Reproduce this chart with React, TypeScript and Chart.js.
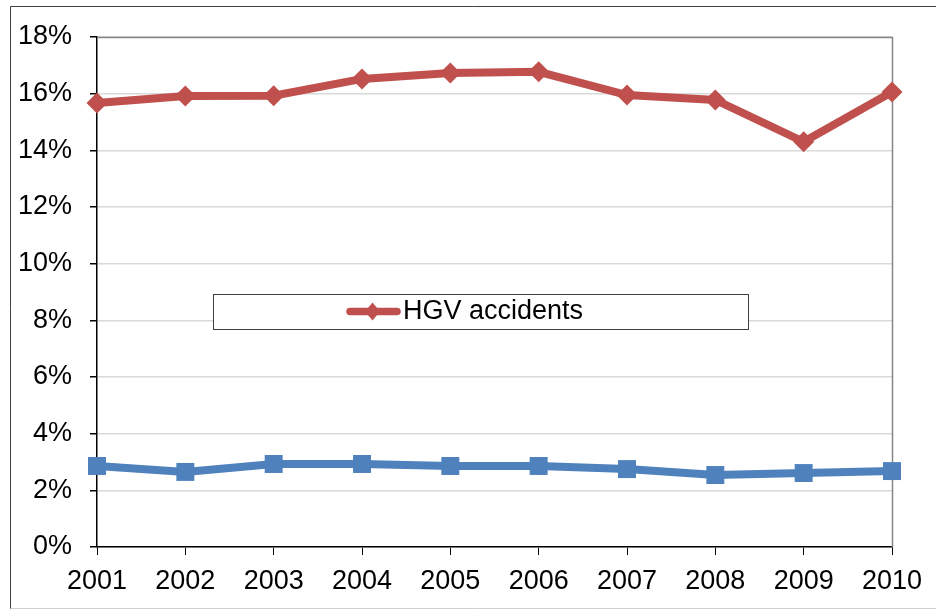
import React, { useEffect, useRef } from "react";
import { Chart, registerables } from "chart.js";

Chart.register(...registerables);

const years = ["2001", "2002", "2003", "2004", "2005", "2006", "2007", "2008", "2009", "2010"];
const hgvAccidents = [15.67, 15.92, 15.93, 16.52, 16.73, 16.77, 15.95, 15.78, 14.3, 16.06];
const otherSeries = [2.86, 2.65, 2.93, 2.93, 2.86, 2.86, 2.75, 2.54, 2.61, 2.68];
const legendLabel = "HGV accidents";

const FONT = "'Liberation Sans', Arial, sans-serif";
const RED = "#C0504D";
const BLUE = "#4F81BD";

const decorPlugin = {
  id: "decor",
  beforeDatasetsDraw(chart: any) {
    const { ctx, chartArea } = chart;
    ctx.save();
    ctx.strokeStyle = "#868686";
    ctx.lineWidth = 1.5;
    ctx.beginPath();
    ctx.moveTo(chartArea.left, chartArea.top + 0.5);
    ctx.lineTo(chartArea.right + 0.5, chartArea.top + 0.5);
    ctx.lineTo(chartArea.right + 0.5, chartArea.bottom);
    ctx.stroke();
    ctx.restore();
  },
  afterDatasetsDraw(chart: any) {
    const { ctx } = chart;
    ctx.save();
    // outer frame
    ctx.strokeStyle = "#404040";
    ctx.lineWidth = 1;
    ctx.beginPath();
    ctx.moveTo(10.5, 609);
    ctx.lineTo(10.5, 6.5);
    ctx.lineTo(936, 6.5);
    ctx.stroke();
    ctx.strokeStyle = "#d0d0d0";
    ctx.beginPath();
    ctx.moveTo(10.5, 608.5);
    ctx.lineTo(936, 608.5);
    ctx.stroke();
    // legend box
    ctx.fillStyle = "#ffffff";
    ctx.fillRect(213, 294, 535, 35);
    ctx.strokeStyle = "#404040";
    ctx.lineWidth = 1;
    ctx.strokeRect(213.5, 294.5, 535, 35);
    // sample line
    ctx.strokeStyle = RED;
    ctx.lineWidth = 7.5;
    ctx.lineCap = "round";
    ctx.beginPath();
    ctx.moveTo(350, 311.5);
    ctx.lineTo(397, 311.5);
    ctx.stroke();
    ctx.fillStyle = RED;
    ctx.beginPath();
    ctx.moveTo(372.5, 302.5);
    ctx.lineTo(380, 311.5);
    ctx.lineTo(372.5, 320.5);
    ctx.lineTo(365, 311.5);
    ctx.closePath();
    ctx.fill();
    ctx.fillStyle = "#000000";
    ctx.font = `27px ${FONT}`;
    ctx.textBaseline = "middle";
    ctx.textAlign = "left";
    ctx.fillText(legendLabel, 403, 312);
    ctx.restore();
  },
};

export default function App() {
  const ref = useRef<HTMLCanvasElement>(null);
  useEffect(() => {
    const canvas = ref.current!;
    const chart = new Chart(canvas, {
      type: "line",
      data: {
        labels: years,
        datasets: [
          {
            label: "Other",
            data: otherSeries,
            borderColor: BLUE,
            backgroundColor: BLUE,
            borderWidth: 8,
            pointStyle: "rect",
            pointRadius: 12.7,
            pointBorderWidth: 0,
            tension: 0,
            clip: false,
          },
          {
            label: legendLabel,
            data: hgvAccidents,
            borderColor: RED,
            backgroundColor: RED,
            borderWidth: 8,
            pointStyle: "rectRot",
            pointRadius: 10.5,
            pointBorderWidth: 0,
            tension: 0,
            clip: false,
          },
        ],
      },
      options: {
        responsive: false,
        animation: false,
        devicePixelRatio: 1,
        layout: { padding: { left: 0, top: 37, right: 44, bottom: 0 } },
        plugins: { legend: { display: false }, tooltip: { enabled: false } },
        scales: {
          x: {
            offset: false,
            grid: { drawOnChartArea: false, drawTicks: true, tickLength: 8, tickColor: "#000000" },
            border: { color: "#000000", width: 1.5 },
            ticks: { color: "#000000", font: { family: FONT, size: 27 }, padding: 10, maxRotation: 0, autoSkip: false },
            afterFit: (s: any) => { s.height = 63; },
          },
          y: {
            min: 0,
            max: 18,
            grid: { color: "#d9d9d9", lineWidth: 1.5, tickLength: 7, tickColor: "#000000" },
            border: { color: "#000000", width: 1.5 },
            ticks: {
              stepSize: 2,
              color: "#000000",
              font: { family: FONT, size: 27 },
              padding: 18,
              callback: (v: any) => `${v}%`,
            },
            afterFit: (s: any) => { s.width = 97; },
          },
        },
      },
      plugins: [decorPlugin],
    });
    return () => chart.destroy();
  }, []);
  return (
    <div style={{ position: "absolute", left: 0, top: 0, width: 936, height: 610, background: "#fff" }}>
      <canvas ref={ref} width={936} height={610} />
    </div>
  );
}
